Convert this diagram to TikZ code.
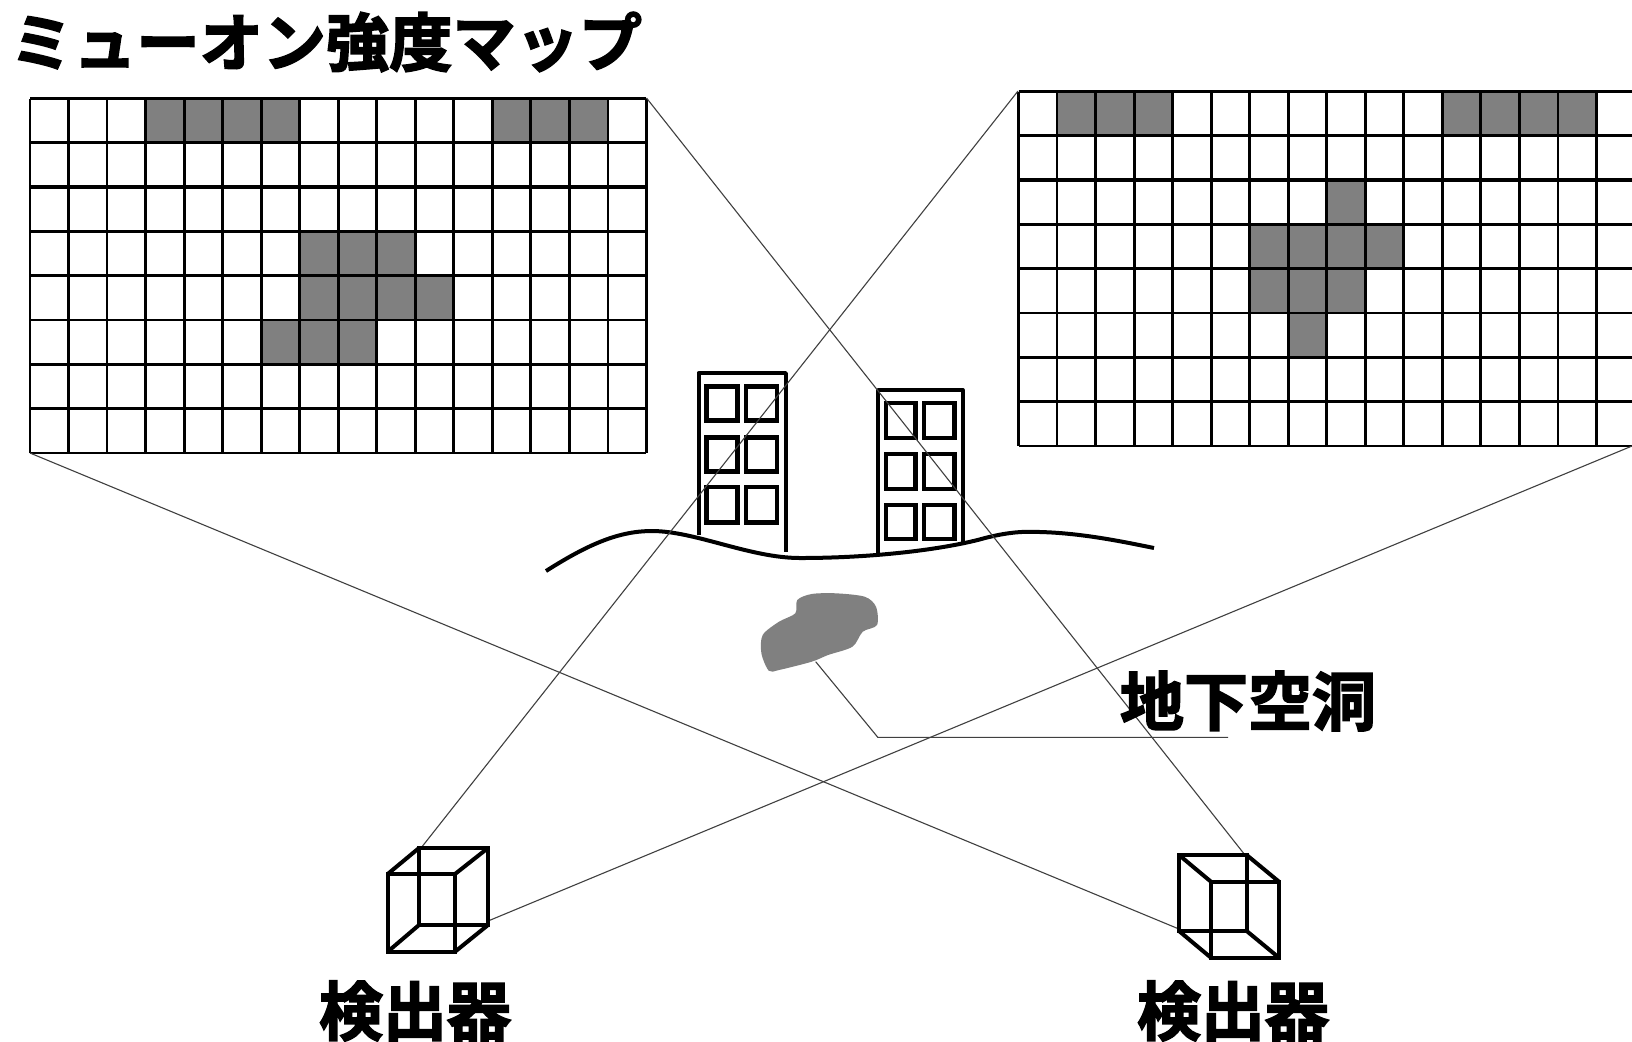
\documentclass[tikz,border=0pt]{standalone}
\usepackage{fontspec}
\newfontfamily\jpfont{Noto Sans CJK JP Bold}[FakeBold=2.6]
\definecolor{cellgray}{HTML}{808080}
\definecolor{thinline}{HTML}{404040}
\tikzset{
  gridline/.style={line width=1.4pt,black},
  thickline/.style={line width=2.1pt,black},
  sightline/.style={line width=0.55pt,thinline},
  wall/.style={line width=1.9pt,black,line join=round},
  pane/.style={line width=2.3pt,black},
  cube/.style={line width=2pt,black,line join=miter},
  ground/.style={line width=2pt,black,line join=round},
  label/.style={font=\jpfont\fontsize{32}{32}\selectfont,inner sep=0pt,text=black},
  heading/.style={font=\jpfont\fontsize{31.6}{32}\selectfont,inner sep=0pt,text=black}
}
% Draws a map: #1,#2 = top-left corner, #3 = list of filled cells col/row
\newcommand{\mapgrid}[4]{%
  \foreach \c/\r in {#3}{
    \fill[cellgray] ({#1+\c*38.53},{#2+\r*44.3}) rectangle ++(38.53,44.3);
  }
  \foreach \r in {0,...,8}{
    \draw[gridline] (#1,{#2+\r*44.3}) -- ({min(#1+16*38.53,1640)},{#2+\r*44.3});
  }
  \draw[thickline] (#1,{#2+2*44.3}) -- ({min(#1+16*38.53,1640)},{#2+2*44.3});
  \foreach \c in {#4}{
    \draw[gridline] ({#1+\c*38.53},#2) -- ({#1+\c*38.53},{#2+8*44.3});
  }
}
% Draws a two-by-three block of windows
\newcommand{\windows}[2]{%
  \foreach \x/\w in {#1}{
    \foreach \y/\h in {#2}{
      \draw[pane] (\x,\y) rectangle ++(\w,\h);
    }
  }
}
\begin{document}
\begin{tikzpicture}[x=0.5pt,y=-0.5pt]
\useasboundingbox (0,0) rectangle (1632,1041);
\fill[white] (0,0) rectangle (1632,1041);

% Anchor points for the connectors
\coordinate (mapLtr) at (646.5,98);
\coordinate (mapLbl) at (30,453);
\coordinate (mapRtl) at (1018,91);
\coordinate (mapRbr) at (1632,446);
\coordinate (cubeLtop) at (421,848);
\coordinate (cubeLright) at (488,921);
\coordinate (cubeRtop) at (1245,855);
\coordinate (cubeRleft) at (1179,929);
\coordinate (caveFoot) at (815.7,661.7);
\coordinate (caveBend) at (877.8,737.3);
\coordinate (caveEnd) at (1228,737.3);

% Intensity maps
\mapgrid{30}{98.5}{3/0,4/0,5/0,6/0,12/0,13/0,14/0,7/3,8/3,9/3,7/4,8/4,9/4,10/4,6/5,7/5,8/5}{0,...,16}
\mapgrid{1018.5}{91.5}{1/0,2/0,3/0,11/0,12/0,13/0,14/0,8/2,6/3,7/3,8/3,9/3,6/4,7/4,8/4,7/5}{0,...,15}

% Buildings
\draw[wall] (698.6,535) -- (698.6,373) -- (786,373) -- (786,552);
\windows{706.7/30.6,746/31}{386.7/34,437.7/34,487/35.7}
\draw[wall] (878,552.7) -- (878,390) -- (962.6,390) -- (962.6,541.7);
\windows{886/29.7,924/30.5}{403/35,454/35,505/34}

% Ground surface
\draw[ground] (546,571)
  .. controls (590,543) and (620,531) .. (652,531)
  .. controls (695,531) and (750,558) .. (800,558)
  .. controls (880,558) and (950,548) .. (985,538)
  .. controls (1005,533) and (1020,531) .. (1040,532)
  .. controls (1080,533) and (1120,541) .. (1154,548);

% Underground cavity
\fill[cellgray] plot[smooth cycle,tension=0.5] coordinates {(797.3,600) (811.6,594) (836,593.3) (864.7,596.7) (876,606.7) (877,625) (862.7,631.7) (852.4,646.7) (828,655) (811.6,661.7) (779,670) (768.8,670.7) (761.4,653.3) (762.7,635) (779,621.7) (795.3,613.3)};

% Lines of sight from detectors to the maps, and the cavity leader
\draw[sightline] (mapLtr) -- (cubeRtop);
\draw[sightline] (mapLbl) -- (cubeRleft);
\draw[sightline] (mapRtl) -- (cubeLtop);
\draw[sightline] (mapRbr) -- (cubeLright);
\draw[sightline] (caveFoot) -- (caveBend) -- (caveEnd);

% Left detector
\draw[cube] (387.7,874) rectangle (455,951.7);
\draw[cube] (419,848) rectangle (488,925);
\draw[cube] (387.7,874) -- (419,848) (455,874) -- (488,848) (387.7,951.7) -- (419,925) (455,951.7) -- (488,925);

% Right detector
\draw[cube] (1179,855) rectangle (1246.7,931);
\draw[cube] (1211,881.7) rectangle (1279,957.7);
\draw[cube] (1179,855) -- (1211,881.7) (1246.7,855) -- (1279,881.7) (1179,931) -- (1211,957.7) (1246.7,931) -- (1279,957.7);

% Labels
\node[heading,anchor=center] (title) at (326,42) {ミューオン強度マップ};
\node[label,anchor=center] (caveLabel) at (1248,701) {地下空洞};
\node[label,anchor=center] (detL) at (415,1011) {検出器};
\node[label,anchor=center] (detR) at (1233,1011) {検出器};
\end{tikzpicture}
\end{document}
